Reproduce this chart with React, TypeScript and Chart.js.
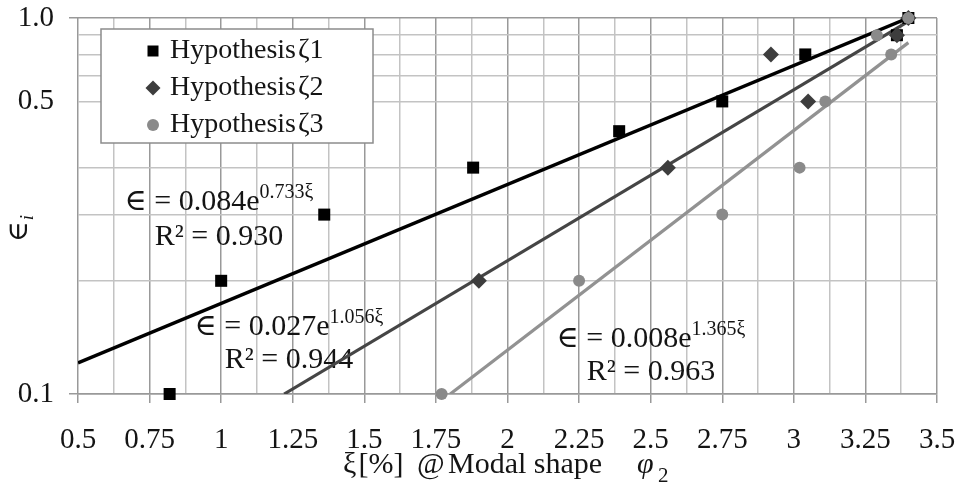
import React, { useEffect, useRef } from "react";
import { Chart, registerables } from "chart.js";

Chart.register(...registerables);

// ---------------- data ----------------
const seriesNames = ["Hypothesis", "Hypothesis", "Hypothesis"];
const seriesTags = ["ζ1", "ζ2", "ζ3"];

const xi1 = [0.82, 1.0, 1.36, 1.88, 2.39, 2.75, 3.04, 3.36, 3.4];
const eps1 = [0.1, 0.2, 0.3, 0.4, 0.5, 0.6, 0.8, 0.9, 1.0];

const xi2 = [1.9, 2.56, 2.92, 3.05, 3.36, 3.4];
const eps2 = [0.2, 0.4, 0.8, 0.6, 0.9, 1.0];

const xi3 = [1.77, 2.25, 2.75, 3.02, 3.11, 3.29, 3.34, 3.4];
const eps3 = [0.1, 0.2, 0.3, 0.4, 0.6, 0.9, 0.8, 1.0];

// exponential trend lines (straight on a log axis), end points
const trend1Xi = [0.5, 3.4];
const trend1Eps = [0.121, 1.0];
const trend2Xi = [1.22, 3.4];
const trend2Eps = [0.1, 0.98];
const trend3Xi = [1.8, 3.4];
const trend3Eps = [0.1, 0.86];

// trend-line equations
const eqCoef = ["0.084", "0.027", "0.008"];
const eqExp = ["0.733", "1.056", "1.365"];
const eqR2 = ["0.930", "0.944", "0.963"];
const eqAnchorXi = [0.9925, 1.237, 2.501];
const eqAnchorEps = [0.3086, 0.1435, 0.1334];
const r2AnchorEps = [0.2489, 0.1172, 0.1089];

// axes
const xMajorTicks = [0.5, 0.75, 1, 1.25, 1.5, 1.75, 2, 2.25, 2.5, 2.75, 3, 3.25, 3.5];
const xTickLabels = ["0.5", "0.75", "1", "1.25", "1.5", "1.75", "2", "2.25", "2.5", "2.75", "3", "3.25", "3.5"];
const xMinorTicks = [0.625, 0.875, 1.125, 1.375, 1.625, 1.875, 2.125, 2.375, 2.625, 2.875, 3.125, 3.375];
const yGridValues = [0.1, 0.2, 0.3, 0.4, 0.6, 0.7, 0.8, 0.9, 1.0];
const yLabelValues = [1.0, 0.6, 0.1];
const yTickLabels = ["1.0", "0.5", "0.1"];

// ---------------- styles / layout ----------------
const SERIF = "'Liberation Serif', 'Times New Roman', 'DejaVu Serif', serif";
const TEXT = "#141414";
const pointColors = ["#000000", "#3d3d3d", "#8a8a8a"];
const lineColors = ["#000000", "#454545", "#929292"];
const GRID_MAJOR = "#999999";
const GRID_MINOR = "#c3c3c3";

const near = (a: number, b: number) => Math.abs(a - b) < 1e-6;
const isXMajor = (v: number) => xMajorTicks.some((t) => near(t, v));
const isYBorder = (v: number) => near(v, 1.0) || near(v, 0.1);

const pts = (xs: number[], ys: number[]) => xs.map((x, i) => ({ x, y: ys[i] }));

function drawMarker(ctx: CanvasRenderingContext2D, kind: number, x: number, y: number) {
  ctx.save();
  ctx.fillStyle = pointColors[kind];
  ctx.beginPath();
  if (kind === 0) {
    ctx.rect(x - 5.5, y - 5.5, 11, 11);
  } else if (kind === 1) {
    ctx.moveTo(x, y - 7.5);
    ctx.lineTo(x + 7.5, y);
    ctx.lineTo(x, y + 7.5);
    ctx.lineTo(x - 7.5, y);
    ctx.closePath();
  } else {
    ctx.arc(x, y, 6, 0, Math.PI * 2);
  }
  ctx.fill();
  ctx.restore();
}

const overlayPlugin = {
  id: "overlay",
  beforeDatasetsDraw(chart: any) {
    const ctx: CanvasRenderingContext2D = chart.ctx;
    const xs = chart.scales.x;
    const ys = chart.scales.y;
    ctx.save();
    ctx.fillStyle = TEXT;
    ctx.textBaseline = "alphabetic";
    ctx.textAlign = "left";
    for (let i = 0; i < eqCoef.length; i++) {
      const cx = xs.getPixelForValue(eqAnchorXi[i]);
      const by = ys.getPixelForValue(eqAnchorEps[i]);
      const ry = ys.getPixelForValue(r2AnchorEps[i]);
      const main = "∈ = " + eqCoef[i] + "e";
      const sup = eqExp[i] + "ξ";
      ctx.font = `30px ${SERIF}`;
      const wMain = ctx.measureText(main).width;
      ctx.font = `20px ${SERIF}`;
      const wSup = ctx.measureText(sup).width;
      const start = cx - (wMain + wSup) / 2;
      ctx.font = `30px ${SERIF}`;
      ctx.fillText(main, start, by);
      ctx.font = `20px ${SERIF}`;
      ctx.fillText(sup, start + wMain, by - 12);
      ctx.font = `30px ${SERIF}`;
      const r2 = "R² = " + eqR2[i];
      const wR = ctx.measureText(r2).width;
      ctx.fillText(r2, cx - wR / 2, ry);
    }
    ctx.restore();
  },
  afterDraw(chart: any) {
    const ctx: CanvasRenderingContext2D = chart.ctx;
    const area = chart.chartArea;
    ctx.save();

    // legend
    const lx = area.left + 23;
    const ly = area.top + 11;
    ctx.fillStyle = "#ffffff";
    ctx.fillRect(lx, ly, 272, 114);
    ctx.strokeStyle = "#8c8c8c";
    ctx.lineWidth = 1.5;
    ctx.strokeRect(lx, ly, 272, 114);
    const rowBase = [29, 66, 103];
    for (let i = 0; i < 3; i++) {
      const b = ly + rowBase[i];
      drawMarker(ctx, i, lx + 52, b - 7);
      ctx.fillStyle = TEXT;
      ctx.font = `28px ${SERIF}`;
      ctx.textAlign = "left";
      ctx.textBaseline = "alphabetic";
      ctx.fillText(seriesNames[i], lx + 69, b);
      const w = ctx.measureText(seriesNames[i]).width;
      ctx.fillText(seriesTags[i], lx + 69 + w + 2, b);
    }

    // x axis title
    const cx = (area.left + area.right) / 2;
    const base = area.bottom + 79;
    ctx.fillStyle = TEXT;
    ctx.font = `30px ${SERIF}`;
    ctx.fillText("ξ", cx - 164.5, base);
    ctx.fillText("[%]", cx - 149, base);
    ctx.fillText("@", cx - 90.5, base);
    ctx.fillText("Modal shape", cx - 59.5, base);
    ctx.font = `italic 30px ${SERIF}`;
    ctx.fillText("φ", cx + 129.5, base);
    ctx.font = `21px ${SERIF}`;
    ctx.fillText("2", cx + 150.5, base + 9);

    // y axis title (rotated)
    ctx.translate(27, (area.top + area.bottom) / 2 + 36);
    ctx.rotate(-Math.PI / 2);
    ctx.font = `28px ${SERIF}`;
    ctx.fillText("∈", 0, 0);
    const we = ctx.measureText("∈").width;
    ctx.font = `italic 19px ${SERIF}`;
    ctx.fillText("i", we + 1, 6);

    ctx.restore();
  },
};

export default function App() {
  const canvasRef = useRef<HTMLCanvasElement | null>(null);

  useEffect(() => {
    const canvas = canvasRef.current;
    if (!canvas) return;
    const tickFont = { family: SERIF, size: 29 };

    const pointSet = (i: number, style: string, radius: number, xs: number[], ys: number[], order: number) => ({
      label: seriesNames[i] + " " + seriesTags[i],
      data: pts(xs, ys),
      pointStyle: style,
      pointRadius: radius,
      backgroundColor: pointColors[i],
      borderColor: pointColors[i],
      borderWidth: 0,
      showLine: false,
      clip: false,
      order,
    });
    const lineSet = (i: number, xs: number[], ys: number[], width: number, order: number) => ({
      label: "trend " + seriesTags[i],
      data: pts(xs, ys),
      showLine: true,
      pointRadius: 0,
      borderColor: lineColors[i],
      borderWidth: width,
      order,
    });

    const chart = new Chart(canvas, {
      type: "scatter",
      data: {
        datasets: [
          pointSet(0, "rect", 8.5, xi1, eps1, 3),
          pointSet(1, "rectRot", 8, xi2, eps2, 2),
          pointSet(2, "circle", 6, xi3, eps3, 1),
          lineSet(0, trend1Xi, trend1Eps, 3.5, 6),
          lineSet(1, trend2Xi, trend2Eps, 3.2, 5),
          lineSet(2, trend3Xi, trend3Eps, 3.2, 4),
        ],
      },
      options: {
        animation: false,
        responsive: false,
        layout: { autoPadding: false, padding: { left: 0, right: 24, top: 18, bottom: 0 } },
        plugins: {
          legend: { display: false },
          tooltip: { enabled: false },
        },
        scales: {
          x: {
            type: "linear",
            min: 0.5,
            max: 3.5,
            afterBuildTicks: (s: any) => {
              s.ticks = [...xMajorTicks, ...xMinorTicks].sort((a, b) => a - b).map((v) => ({ value: v }));
            },
            afterFit: (s: any) => {
              s.height = 99;
              s.paddingLeft = 0;
              s.paddingRight = 0;
              s.paddingTop = 0;
              s.paddingBottom = 0;
            },
            ticks: {
              autoSkip: false,
              maxRotation: 0,
              minRotation: 0,
              padding: 20,
              color: TEXT,
              font: tickFont,
              callback: (v: any) => {
                const i = xMajorTicks.findIndex((t) => near(t, Number(v)));
                return i >= 0 ? xTickLabels[i] : "";
              },
            },
            grid: {
              color: (c: any) => (isXMajor(c.tick?.value) ? GRID_MAJOR : GRID_MINOR),
              lineWidth: 1.5,
              tickLength: 9,
              tickColor: (c: any) => (isXMajor(c.tick?.value) ? GRID_MAJOR : "rgba(0,0,0,0)"),
            },
            border: { display: true, color: GRID_MAJOR, width: 1.5 },
          },
          y: {
            type: "logarithmic",
            min: 0.1,
            max: 1.0,
            afterBuildTicks: (s: any) => {
              s.ticks = yGridValues.map((v) => ({ value: v }));
            },
            afterFit: (s: any) => {
              s.width = 78;
              s.paddingLeft = 0;
              s.paddingRight = 0;
              s.paddingTop = 0;
              s.paddingBottom = 0;
            },
            ticks: {
              autoSkip: false,
              padding: 15,
              color: TEXT,
              font: tickFont,
              callback: (v: any) => {
                const i = yLabelValues.findIndex((t) => near(t, Number(v)));
                return i >= 0 ? yTickLabels[i] : "";
              },
            },
            grid: {
              color: (c: any) => (isYBorder(c.tick?.value) ? GRID_MAJOR : GRID_MINOR),
              lineWidth: 1.5,
              tickLength: 9,
              tickColor: (c: any) => (isYBorder(c.tick?.value) ? GRID_MAJOR : "rgba(0,0,0,0)"),
            },
            border: { display: false },
          },
        },
      },
      plugins: [overlayPlugin],
    } as any);

    return () => chart.destroy();
  }, []);

  return (
    <div style={{ position: "fixed", left: 0, top: 0, width: 961, height: 493, background: "#fff" }}>
      <canvas ref={canvasRef} width={961} height={493} style={{ display: "block" }} />
    </div>
  );
}
